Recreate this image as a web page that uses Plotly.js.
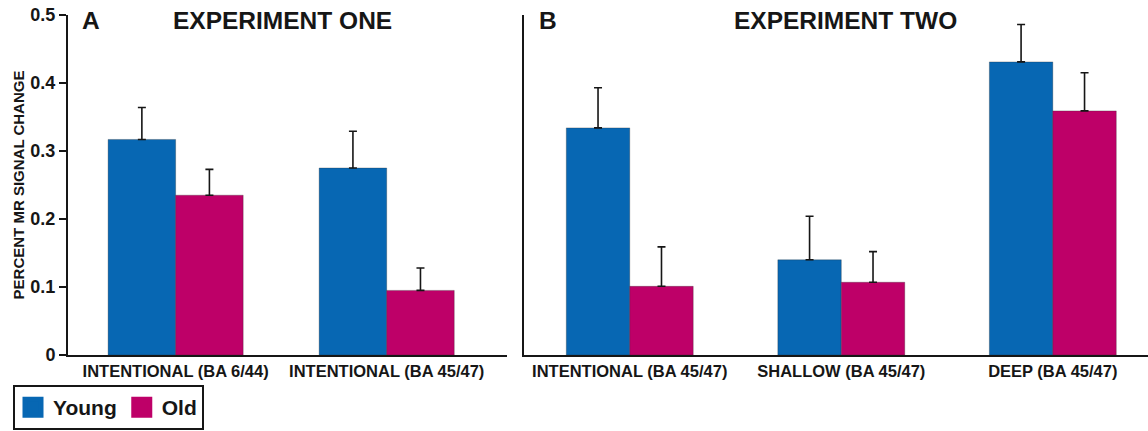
<!DOCTYPE html>
<html>
<head>
<meta charset="utf-8">
<script src="https://cdn.plot.ly/plotly-3.0.1.min.js"></script>
<style>html,body{margin:0;padding:0;background:#fff;}#chart{width:1148px;height:431px;}</style>
</head>
<body>
<div id="chart"></div>
<script>
// ---- data ----
var catsA = ['INTENTIONAL (BA 6/44)', 'INTENTIONAL (BA 45/47)'];
var youngA = [0.317, 0.275];
var youngAErr = [0.047, 0.054];
var oldA = [0.235, 0.095];
var oldAErr = [0.038, 0.033];

var catsB = ['INTENTIONAL (BA 45/47)', 'SHALLOW (BA 45/47)', 'DEEP (BA 45/47)'];
var youngB = [0.334, 0.140, 0.431];
var youngBErr = [0.059, 0.064, 0.055];
var oldB = [0.101, 0.107, 0.359];
var oldBErr = [0.058, 0.045, 0.056];

var seriesNames = ['Young', 'Old'];
var yTicks = [0, 0.1, 0.2, 0.3, 0.4, 0.5];
var yTickText = ['0', '0.1', '0.2', '0.3', '0.4', '0.5'];

// ---- styling ----
var BLUE = '#0767b3';
var PINK = '#be0068';
var INK = '#161616';
var FONT = 'Liberation Sans, Arial, Helvetica, sans-serif';
var W = 1148, H = 431;

function px(x) { return x / W; }
function py(y) { return 1 - y / H; }

function barTrace(cats, vals, errs, color, name, xa, ya, off, wid) {
  return {
    type: 'bar', x: cats, y: vals, name: name, legendgroup: name, showlegend: false,
    xaxis: xa, yaxis: ya, offset: off, width: wid,
    marker: {color: color, line: {color: 'rgba(40,40,40,0.5)', width: 0.6}},
    error_y: {type: 'data', symmetric: false, array: errs, arrayminus: errs.map(function () { return 0; }),
      color: INK, thickness: 1.6, width: 4},
    hoverinfo: 'x+y+name'
  };
}

var data = [
  barTrace(catsA, youngA, youngAErr, BLUE, seriesNames[0], 'x', 'y', -0.32, 0.32),
  barTrace(catsA, oldA, oldAErr, PINK, seriesNames[1], 'x', 'y', 0, 0.32),
  barTrace(catsB, youngB, youngBErr, BLUE, seriesNames[0], 'x2', 'y2', -0.30, 0.30),
  barTrace(catsB, oldB, oldBErr, PINK, seriesNames[1], 'x2', 'y2', 0, 0.30),
  // legend entries (large square swatches)
  {type: 'scatter', mode: 'markers', x: [null], y: [null], name: seriesNames[0], legendgroup: seriesNames[0],
    marker: {symbol: 'square', size: 16, color: BLUE, line: {color: BLUE, width: 5}}, xaxis: 'x', yaxis: 'y', hoverinfo: 'skip'},
  {type: 'scatter', mode: 'markers', x: [null], y: [null], name: seriesNames[1], legendgroup: seriesNames[1],
    marker: {symbol: 'square', size: 16, color: PINK, line: {color: PINK, width: 5}}, xaxis: 'x', yaxis: 'y', hoverinfo: 'skip'}
];

var catFont = {family: FONT, size: 16.5, color: INK, weight: 'bold'};
var titleFont = {family: FONT, size: 24.5, color: INK, weight: 'bold'};

var layout = {
  width: W, height: H,
  margin: {l: 0, r: 0, t: 0, b: 0, pad: 0, autoexpand: false},
  paper_bgcolor: '#fff', plot_bgcolor: 'rgba(0,0,0,0)',
  font: {family: FONT, color: INK},
  showlegend: true,
  legend: {
    orientation: 'h', xref: 'container', yref: 'container',
    x: px(13), y: py(430), xanchor: 'left', yanchor: 'bottom',
    bgcolor: '#fff', bordercolor: INK, borderwidth: 2,
    font: {family: FONT, size: 21, color: INK, weight: 'bold'},
    itemwidth: 30, itemclick: false, itemdoubleclick: false
  },
  xaxis: {
    domain: [px(68), px(507)], range: [-0.51, 1.57], type: 'category',
    showline: true, linecolor: INK, linewidth: 2, ticks: '', showgrid: false, zeroline: false,
    tickfont: catFont, ticklabelstandoff: 0, anchor: 'y', fixedrange: true
  },
  yaxis: {
    domain: [py(355), py(15)], range: [0, 0.5],
    showline: true, linecolor: INK, linewidth: 2, ticks: 'outside', ticklen: 7, tickwidth: 2, tickcolor: INK,
    tickvals: yTicks, ticktext: yTickText, showgrid: false, zeroline: false,
    tickfont: {family: FONT, size: 18, color: INK, weight: 'bold'},
    title: {text: 'PERCENT MR SIGNAL CHANGE', font: {family: FONT, size: 15, color: INK, weight: 'bold'}, standoff: 2},
    anchor: 'x', fixedrange: true
  },
  xaxis2: {
    domain: [px(524), 1], range: [-0.50, 2.45], type: 'category',
    showline: true, linecolor: INK, linewidth: 2, ticks: '', showgrid: false, zeroline: false,
    tickfont: catFont, ticklabelstandoff: 0, anchor: 'y2', fixedrange: true
  },
  yaxis2: {
    domain: [py(355), py(15)], range: [0, 0.5],
    showline: true, linecolor: INK, linewidth: 2, ticks: '', showticklabels: false,
    showgrid: false, zeroline: false, anchor: 'x2', fixedrange: true
  },
  annotations: [
    {text: 'A', xref: 'paper', yref: 'paper', x: px(91), y: py(20), showarrow: false, font: titleFont, xanchor: 'center', yanchor: 'middle'},
    {text: 'EXPERIMENT ONE', xref: 'paper', yref: 'paper', x: px(282), y: py(20), showarrow: false, font: titleFont, xanchor: 'center', yanchor: 'middle'},
    {text: 'B', xref: 'paper', yref: 'paper', x: px(548), y: py(20), showarrow: false, font: titleFont, xanchor: 'center', yanchor: 'middle'},
    {text: 'EXPERIMENT TWO', xref: 'paper', yref: 'paper', x: px(845), y: py(20), showarrow: false, font: titleFont, xanchor: 'center', yanchor: 'middle'}
  ]
};

Plotly.newPlot('chart', data, layout, {displayModeBar: false, staticPlot: false, responsive: false});
</script>
</body>
</html>
